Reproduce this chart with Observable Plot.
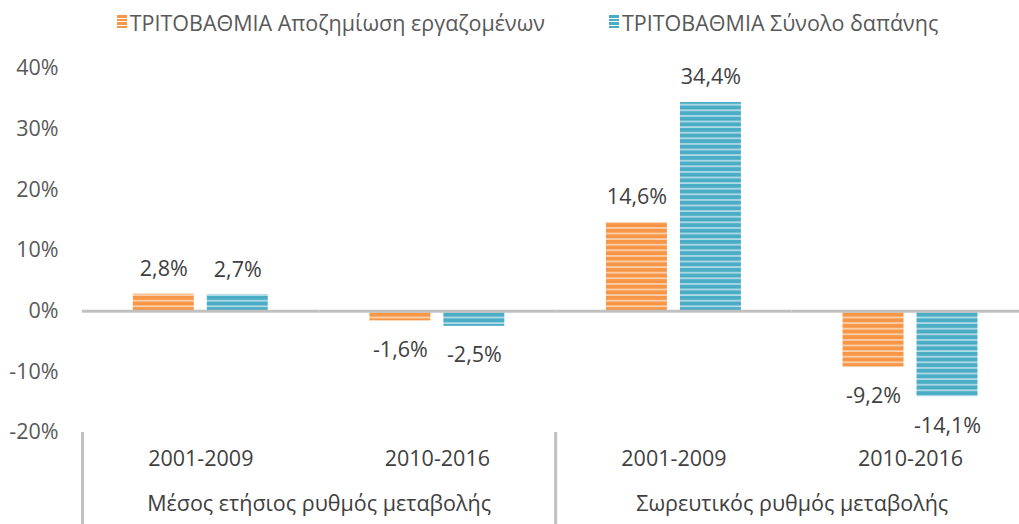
<!DOCTYPE html>
<html>
<head>
<meta charset="utf-8">
<script src="https://cdn.jsdelivr.net/npm/d3@7"></script>
<script src="https://cdn.jsdelivr.net/npm/@observablehq/plot@0.6"></script>
<style>
  html, body { margin: 0; padding: 0; background: #fff; overflow: hidden; }
  body { width: 1019px; height: 524px; font-family: "Open Sans", sans-serif; }
  #legend { height: 44px; display: flex; align-items: center; justify-content: center; gap: 64px; padding-left: 36px; box-sizing: border-box; font-size: 21.5px; color: #595959; }
  .item { display: flex; align-items: center; gap: 3px; }
  .sw { width: 10px; height: 14px; display: inline-block; }
</style>
</head>
<body>
<div id="legend"></div>
<div id="chart"></div>
<script>
// ---- data ----
const periods = ["2001-2009", "2010-2016", "2001-2009", "2010-2016"];
const groups = ["Μέσος ετήσιος ρυθμός μεταβολής", "Μέσος ετήσιος ρυθμός μεταβολής", "Σωρευτικός ρυθμός μεταβολής", "Σωρευτικός ρυθμός μεταβολής"];
const seriesNames = ["ΤΡΙΤΟΒΑΘΜΙΑ Αποζημίωση εργαζομένων", "ΤΡΙΤΟΒΑΘΜΙΑ Σύνολο δαπάνης"];
const compensation = [2.8, -1.6, 14.6, -9.2];
const totalSpending = [2.7, -2.5, 34.4, -14.1];
const yTicks = [-20, -10, 0, 10, 20, 30, 40];

// ---- derived tables ----
const seriesColors = ["#F79646", "#4BACC6"];
const patternIds = ["stripeOrange", "stripeBlue"];
const cats = periods.map((p, i) => ({key: groups[i] + "|" + p + "|" + i, period: p, group: groups[i], first: i === 0 || groups[i] !== groups[i - 1]}));
const rows = [];
cats.forEach((c, i) => {
  rows.push({key: c.key, series: seriesNames[0], value: compensation[i]});
  rows.push({key: c.key, series: seriesNames[1], value: totalSpending[i]});
});
const fmt = v => String(v.toFixed(1)).replace(".", ",") + "%";

// ---- legend ----
const legend = d3.select("#legend");
seriesNames.forEach((s, i) => {
  const it = legend.append("div").attr("class", "item");
  it.append("span").attr("class", "sw")
    .style("background", `repeating-linear-gradient(to bottom, ${seriesColors[i]} 0px, ${seriesColors[i]} 2.6px, rgba(255,255,255,0.7) 2.6px, rgba(255,255,255,0.7) 3.6px)`);
  it.append("span").text(s);
});

// ---- layout constants ----
const W = 1019, H = 480, mL = 82, mR = -9.3, mT = 24, mB = 92;
const FS = 21.5;
const pInner = 0.176, pOuter = 0.687;
const panelW = (W - mL - mR) / cats.length;
const step = panelW / (2 - pInner + 2 * pOuter);
const bw = step * (1 - pInner);
const edgeDx = -(pOuter * step + bw / 2);

const plot = Plot.plot({
  width: W, height: H,
  marginLeft: mL, marginRight: mR, marginTop: mT, marginBottom: mB,
  style: {fontFamily: "Open Sans, sans-serif", fontSize: FS + "px", color: "#595959", background: "transparent", overflow: "visible"},
  fx: {domain: cats.map(c => c.key), padding: 0, round: false, axis: null},
  x: {domain: seriesNames, paddingInner: pInner, paddingOuter: pOuter, round: false, axis: null},
  y: {domain: [-20, 40], ticks: yTicks, tickFormat: d => d + "%", tickSize: 0, tickPadding: 24, label: null, axis: "left"},
  color: {domain: seriesNames, range: patternIds.map(id => `url(#${id})`)},
  marks: [
    Plot.barY(rows, {fx: "key", x: "series", y: "value", fill: "series"}),
    Plot.ruleY([0], {stroke: "#c0c0c0", strokeWidth: 3}),
    Plot.text(rows.filter(d => d.value >= 0), {fx: "key", x: "series", y: "value", text: d => fmt(d.value), dy: -25, fill: "#404040", fontSize: FS}),
    Plot.text(rows.filter(d => d.value < 0), {fx: "key", x: "series", y: "value", text: d => fmt(d.value), dy: 29, fill: "#404040", fontSize: FS}),
    Plot.text(cats, {fx: "key", text: "period", frameAnchor: "bottom", dy: 33, fill: "#404040", fontSize: FS}),
    Plot.text(cats.filter(c => c.first), {fx: "key", text: "group", frameAnchor: "bottom-right", textAnchor: "middle", dy: 78, fill: "#404040", fontSize: FS}),
    Plot.ruleX(cats.filter(c => c.first), {fx: "key", x: () => seriesNames[0], dx: edgeDx, stroke: "#c0c0c0", strokeWidth: 3, insetTop: H - mT - mB, insetBottom: -mB})
  ]
});

// stripe patterns
const svg = d3.select(plot.tagName.toLowerCase() === "svg" ? plot : plot.querySelector("svg"));
const defs = svg.insert("defs", ":first-child");
patternIds.forEach((id, i) => {
  const p = defs.append("pattern").attr("id", id).attr("patternUnits", "userSpaceOnUse").attr("width", 10).attr("height", 5.6);
  p.append("rect").attr("width", 10).attr("height", 5.6).attr("fill", seriesColors[i]);
  p.append("rect").attr("y", 4.0).attr("width", 10).attr("height", 1.4).attr("fill", "#ffffff").attr("fill-opacity", 0.7);
});
document.getElementById("chart").appendChild(plot);
</script>
</body>
</html>
